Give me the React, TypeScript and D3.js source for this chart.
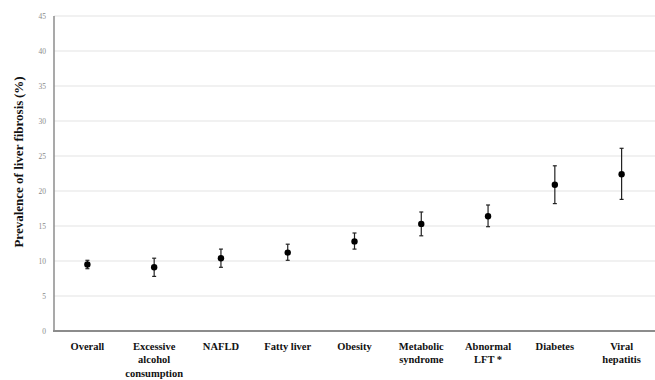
import * as d3 from 'd3'
import { useEffect, useRef } from 'react'

const categories = [
  ['Overall'],
  ['Excessive', 'alcohol', 'consumption'],
  ['NAFLD'],
  ['Fatty liver'],
  ['Obesity'],
  ['Metabolic', 'syndrome'],
  ['Abnormal', 'LFT *'],
  ['Diabetes'],
  ['Viral', 'hepatitis'],
]
const prevalence = [9.5, 9.1, 10.4, 11.2, 12.8, 15.3, 16.4, 20.9, 22.4]
const lower = [8.9, 7.8, 9.1, 10.1, 11.7, 13.6, 14.9, 18.2, 18.8]
const upper = [10.1, 10.4, 11.7, 12.4, 14.0, 17.0, 18.0, 23.6, 26.1]
const yTicks = [0, 5, 10, 15, 20, 25, 30, 35, 40, 45]

const W = 655,
  H = 380

const App = () => {
  const ref = useRef<SVGSVGElement>(null)

  useEffect(() => {
    const svg = d3.select(ref.current)
    svg.selectAll('*').remove()

    const left = 54,
      right = 655,
      top = 16,
      bottom = 331

    const x = d3
      .scaleBand()
      .domain(d3.range(categories.length).map(String))
      .range([left, right])
    const y = d3.scaleLinear().domain([0, 45]).range([bottom, top])

    // gridlines
    svg
      .append('g')
      .selectAll('line')
      .data(yTicks.filter((d) => d > 0))
      .enter()
      .append('line')
      .attr('x1', left)
      .attr('x2', right)
      .attr('y1', (d) => y(d))
      .attr('y2', (d) => y(d))
      .attr('stroke', '#e3e3e3')
      .attr('stroke-width', 1)

    // tick labels
    svg
      .append('g')
      .selectAll('text')
      .data(yTicks)
      .enter()
      .append('text')
      .attr('x', 46)
      .attr('y', (d) => y(d))
      .attr('dy', '0.35em')
      .attr('text-anchor', 'end')
      .attr('font-family', '"Liberation Serif", serif')
      .attr('font-size', 7.5)
      .attr('fill', '#8a8a8a')
      .text((d) => d)

    // axes
    svg
      .append('line')
      .attr('x1', left)
      .attr('x2', left)
      .attr('y1', top)
      .attr('y2', bottom)
      .attr('stroke', '#8c8c8c')
      .attr('stroke-width', 1.5)
    svg
      .append('line')
      .attr('x1', left - 1)
      .attr('x2', right)
      .attr('y1', bottom)
      .attr('y2', bottom)
      .attr('stroke', '#8c8c8c')
      .attr('stroke-width', 2)

    const cx = (i: number) => x(String(i))! + x.bandwidth() / 2

    // error bars
    const eb = svg
      .append('g')
      .selectAll('g')
      .data(prevalence)
      .enter()
      .append('g')
      .attr('stroke', '#222')
      .attr('stroke-width', 1.2)
    eb.append('line')
      .attr('x1', (d, i) => cx(i))
      .attr('x2', (d, i) => cx(i))
      .attr('y1', (d, i) => y(lower[i]))
      .attr('y2', (d, i) => y(upper[i]))
    eb.append('line')
      .attr('x1', (d, i) => cx(i) - 2)
      .attr('x2', (d, i) => cx(i) + 2)
      .attr('y1', (d, i) => y(lower[i]))
      .attr('y2', (d, i) => y(lower[i]))
    eb.append('line')
      .attr('x1', (d, i) => cx(i) - 2)
      .attr('x2', (d, i) => cx(i) + 2)
      .attr('y1', (d, i) => y(upper[i]))
      .attr('y2', (d, i) => y(upper[i]))

    // points
    svg
      .append('g')
      .selectAll('circle')
      .data(prevalence)
      .enter()
      .append('circle')
      .attr('cx', (d, i) => cx(i))
      .attr('cy', (d) => y(d))
      .attr('r', 3.2)
      .attr('fill', '#000')

    // category labels
    const lab = svg
      .append('g')
      .selectAll('text')
      .data(categories)
      .enter()
      .append('text')
      .attr('text-anchor', 'middle')
      .attr('font-family', '"Liberation Serif", serif')
      .attr('font-weight', 'bold')
      .attr('font-size', 10.5)
      .attr('fill', '#111')
    lab
      .selectAll('tspan')
      .data((d, i) => d.map((t) => ({ t, i })))
      .enter()
      .append('tspan')
      .attr('x', (d) => cx(d.i))
      .attr('y', (d, j) => 350 + j * 13.3)
      .text((d) => d.t)

    // y title
    svg
      .append('text')
      .attr('transform', 'translate(23,162) rotate(-90)')
      .attr('text-anchor', 'middle')
      .attr('font-family', '"Liberation Serif", serif')
      .attr('font-weight', 'bold')
      .attr('font-size', 13)
      .attr('fill', '#111')
      .text('Prevalence of liver fibrosis\u2009(%)')
  }, [])

  return (
    <svg
      ref={ref}
      width={W}
      height={H}
      style={{ position: 'absolute', left: 0, top: 0, background: '#fff' }}
    />
  )
}

export default App
